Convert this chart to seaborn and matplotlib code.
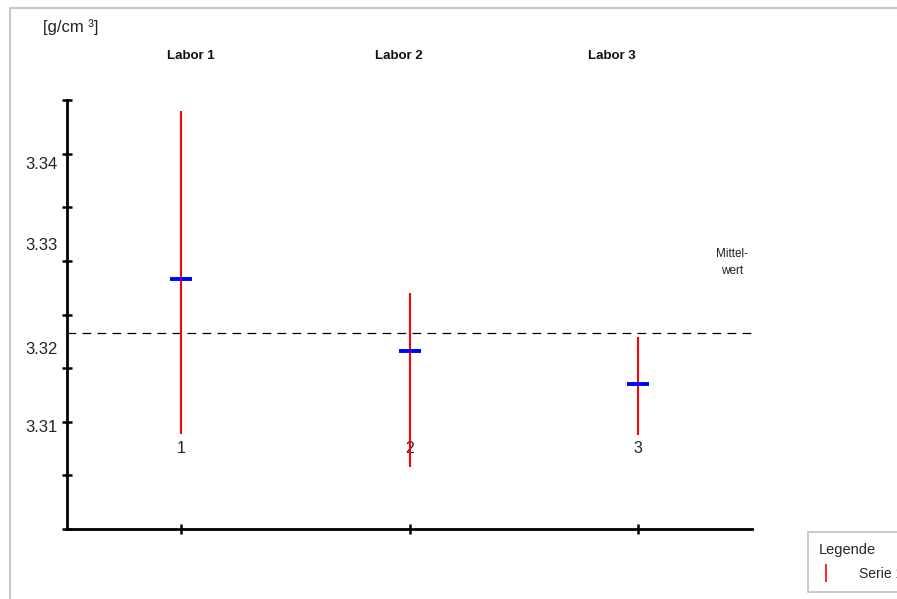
import numpy as np
import pandas as pd
import matplotlib
matplotlib.use("Agg")
import matplotlib.pyplot as plt
import seaborn as sns
from matplotlib.lines import Line2D
from matplotlib.patches import Rectangle

# data
labore = ["Labor 1", "Labor 2", "Labor 3"]
labor_nr = [1, 2, 3]
mittel = [3.3283, 3.3216, 3.3185]
oben = [3.3440, 3.3270, 3.3229]
unten = [3.3139, 3.3108, 3.3138]
gesamt_mittel = 3.3233
y_labels = ["3.34", "3.33", "3.32", "3.31"]
y_label_pos = [3.3391, 3.3316, 3.3219, 3.3146]

df = pd.DataFrame({"nr": labor_nr, "labor": labore, "mittel": mittel,
                   "oben": oben, "unten": unten})

sns.set_style("white")
plt.rcParams["font.family"] = ["Liberation Sans", "DejaVu Sans"]

fig = plt.figure(figsize=(8.97, 5.99), dpi=100)
ax = fig.add_axes([67 / 897, 1 - 529 / 599, 685 / 897, 429 / 599])

# outer frame of the chart object (cut off at right/bottom)
fig.patches.append(Rectangle((10 / 897, -0.05), 1.2, 1 - 8 / 599 + 0.05,
                             transform=fig.transFigure, fill=False,
                             edgecolor="#c8c8c8", lw=1.5))

# ranges
ax.vlines(df["nr"], df["unten"], df["oben"], color="red", lw=1.5, zorder=2)
# means
sns.scatterplot(data=df, x="nr", y="mittel", marker="_", s=240,
                color="blue", linewidth=2.8, ax=ax, zorder=3, legend=False)
# overall mean
ax.axhline(gesamt_mittel, xmin=0, xmax=1.005, color="black", lw=0.9,
           ls=(0, (7, 5)), clip_on=False, zorder=1)

ax.set_xlim(0.5, 3.5)
ax.set_ylim(3.305, 3.345)
ax.set_xlabel("")
ax.set_ylabel("")

for side in ["top", "right"]:
    ax.spines[side].set_visible(False)
for side in ["left", "bottom"]:
    ax.spines[side].set_color("black")
    ax.spines[side].set_linewidth(2)

ax.set_xticks(labor_nr, [str(n) for n in labor_nr])
ax.tick_params(axis="x", bottom=True, direction="inout", length=7, width=1.8,
               color="black", pad=-67, labelsize=11.5, labelcolor="#222222")

ax.set_yticks(y_label_pos, y_labels)
ax.set_yticks(np.linspace(3.305, 3.345, 9), minor=True)
ax.tick_params(axis="y", which="major", left=False, length=0, pad=6.5,
               labelsize=12, labelcolor="#222222")
ax.tick_params(axis="y", which="minor", left=True, direction="inout",
               length=7, width=1.8, color="black")

# lab names above the chart
for nr, name in zip(labor_nr, labore):
    ax.annotate(name, xy=(nr, 1), xycoords=("data", "axes fraction"),
                xytext={1: (10, 44), 2: (-11, 44), 3: (-26, 44)}[nr],
                textcoords="offset pixels", ha="center", va="center",
                fontsize=9.5, fontweight="bold", color="#111111")

fig.text(43 / 897, 1 - 27 / 599, "[g/cm ³]", fontsize=12, va="center",
         ha="left", color="#222222")

ax.annotate("Mittel-\nwert", xy=(1, gesamt_mittel), xycoords=("axes fraction", "data"),
            xytext=(-20, 70), textcoords="offset pixels", ha="center",
            va="center", fontsize=8.5, linespacing=1.6, color="#222222")

handle = Line2D([], [], color="red", marker="|", linestyle="None",
                markersize=13, markeredgewidth=1.2)
leg = fig.legend(handles=[handle], labels=["Serie 1"], title="Legende",
                 loc="lower left", bbox_to_anchor=(808 / 897, 7 / 599),
                 borderaxespad=0, frameon=True, fancybox=False,
                 edgecolor="#b0b0b0", fontsize=10, title_fontsize=10.5,
                 handlelength=1.0, handletextpad=1.9, borderpad=0.8,
                 labelspacing=0.7)
leg._legend_box.align = "left"
leg.get_frame().set_linewidth(1.2)

fig.savefig("out.png", dpi=100)
